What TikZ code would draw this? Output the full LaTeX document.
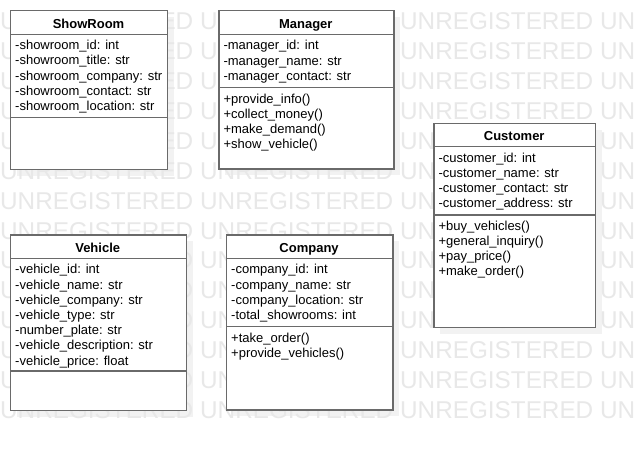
\documentclass[tikz,border=0pt]{standalone}
\usepackage{fontspec}
\setmainfont{Liberation Sans}
\definecolor{boxline}{HTML}{6A6A6A}
\definecolor{wm}{HTML}{E8E8E8}
\definecolor{shade}{HTML}{F2F2F2}
\begin{document}
\begin{tikzpicture}[x=1pt,y=-1pt,
  classbox/.style={draw=boxline, line width=1.4pt, fill=white, inner sep=0pt, anchor=north west},
  sepline/.style={draw=boxline, line width=1.4pt},
  title/.style={font=\bfseries\fontsize{13}{15}\selectfont, inner sep=0pt, anchor=base},
  member/.style={font=\fontsize{13}{15}\selectfont, inner sep=0pt, anchor=base west},
  wmtext/.style={text=wm, font=\fontsize{24.3}{26}\selectfont, inner sep=0pt, anchor=base west},
  shadowbox/.style={fill=shade}]
\fill[white] (0,0) rectangle (635,450);
\useasboundingbox (0,0) rectangle (635,450);
% shadows
\foreach \l/\t/\r/\b in {10/10/167/169, 218.3/10/393.3/168.3, 433.3/122.7/595/326.7, 10/234.3/185.5/410, 226/234.3/392.3/409.3}
  \fill[shadowbox] (\l+7,\t+7) rectangle (\r+7,\b+7);
% watermark
\begin{scope}
\clip (0,0) rectangle (635,450);
\foreach \k in {0,...,13}
  \foreach \c in {0,1,2,3}
    \node[wmtext] (wm-\k-\c) at (200*\c, 29.7+29.9*\k) {UNREGISTERED};
\end{scope}
% ShowRoom
\node[classbox, minimum width=157pt, minimum height=159pt] (showroom) at (10,10) {};
\node[title] (showroomT) at (88.5,28) {ShowRoom};
\draw[sepline] (10,34.3) -- (167,34.3);
\draw[sepline] (10,117.3) -- (167,117.3);
\foreach \t [count=\i from 0] in {-showroom\_id: int, -showroom\_title: str, -showroom\_company: str, -showroom\_contact: str, -showroom\_location: str}
  \node[member] (showroom-a\i) at (15, 49.5+15.3*\i) {\t};
% Manager
\node[classbox, minimum width=175pt, minimum height=158.3pt] (manager) at (218.3,10) {};
\node[title] (managerT) at (305.8,28) {Manager};
\draw[sepline] (218.3,34.3) -- (393.3,34.3);
\draw[sepline] (218.3,87.7) -- (393.3,87.7);
\foreach \t [count=\i from 0] in {-manager\_id: int, -manager\_name: str, -manager\_contact: str}
  \node[member] (manager-a\i) at (223.3, 49.5+15.5*\i) {\t};
\foreach \t [count=\i from 0] in {+provide\_info(), +collect\_money(), +make\_demand(), +show\_vehicle()}
  \node[member] (manager-m\i) at (223.3, 103.5+15.1*\i) {\t};
% Customer
\node[classbox, minimum width=161.7pt, minimum height=204pt] (customer) at (433.3,122.7) {};
\node[title] (customerT) at (514.2,140.5) {Customer};
\draw[sepline] (433.3,146.3) -- (595,146.3);
\draw[sepline] (433.3,215) -- (595,215);
\foreach \t [count=\i from 0] in {-customer\_id: int, -customer\_name: str, -customer\_contact: str, -customer\_address: str}
  \node[member] (customer-a\i) at (438.3, 162.8+14.8*\i) {\t};
\foreach \t [count=\i from 0] in {+buy\_vehicles(), +general\_inquiry(), +pay\_price(), +make\_order()}
  \node[member] (customer-m\i) at (438.3, 230.5+15*\i) {\t};
% Vehicle
\node[classbox, minimum width=175.5pt, minimum height=175.7pt] (vehicle) at (10,234.3) {};
\node[title] (vehicleT) at (97.7,252.3) {Vehicle};
\draw[sepline] (10,258.3) -- (185.5,258.3);
\draw[sepline] (10,371) -- (185.5,371);
\foreach \t [count=\i from 0] in {-vehicle\_id: int, -vehicle\_name: str, -vehicle\_company: str, -vehicle\_type: str, -number\_plate: str, -vehicle\_description: str, -vehicle\_price: float}
  \node[member] (vehicle-a\i) at (15, 273.8+15.2*\i) {\t};
% Company
\node[classbox, minimum width=166.3pt, minimum height=175pt] (company) at (226,234.3) {};
\node[title] (companyT) at (309.1,252.3) {Company};
\draw[sepline] (226,258.3) -- (392.3,258.3);
\draw[sepline] (226,326.7) -- (392.3,326.7);
\foreach \t [count=\i from 0] in {-company\_id: int, -company\_name: str, -company\_location: str, -total\_showrooms: int}
  \node[member] (company-a\i) at (231, 273.8+15.2*\i) {\t};
\foreach \t [count=\i from 0] in {+take\_order(), +provide\_vehicles()}
  \node[member] (company-m\i) at (231, 342.8+14.6*\i) {\t};
\end{tikzpicture}
\end{document}
